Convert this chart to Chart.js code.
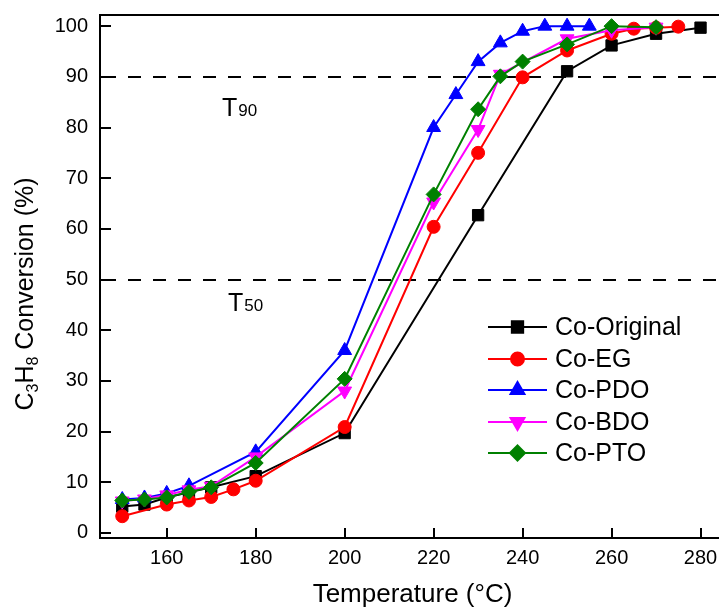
<!DOCTYPE html>
<html>
<head>
<meta charset="utf-8">
<script src="https://cdn.jsdelivr.net/npm/chart.js@4/dist/chart.umd.min.js"></script>
<style>
html, body { margin: 0; padding: 0; background: #fff; overflow: hidden; }
#wrap { width: 734px; height: 612px; overflow: hidden; }
#c { position: relative; top: -9px; }
</style>
</head>
<body>
<div id="wrap"><canvas id="c" width="734" height="621"></canvas></div>
<script>
// values
var ORIG_X = [150, 155, 160, 165, 170, 180, 200, 230, 250, 260, 270, 280];
var ORIG_Y = [5.2, 5.6, 7.0, 8.0, 9.0, 11.2, 19.7, 62.7, 91.1, 96.2, 98.5, 99.7];

var EG_X = [150, 160, 165, 170, 175, 180, 200, 220, 230, 240, 250, 260, 265, 270, 275];
var EG_Y = [3.3, 5.6, 6.4, 7.1, 8.6, 10.3, 20.9, 60.4, 75.0, 89.9, 95.2, 98.5, 99.5, 99.7, 99.9];

var PDO_X = [150, 155, 160, 165, 180, 200, 220, 225, 230, 235, 240, 245, 250, 255];
var PDO_Y = [6.6, 6.9, 7.8, 9.3, 16.0, 36.0, 80.0, 86.5, 93.0, 96.7, 99.0, 100, 100, 100];

var BDO_X = [150, 155, 160, 165, 170, 180, 200, 220, 230, 235, 250, 260, 270];
var BDO_Y = [6.3, 6.7, 7.5, 8.5, 9.2, 15.0, 28.0, 65.3, 79.6, 90.5, 97.5, 99.2, 99.8];

var PTO_X = [150, 155, 160, 165, 170, 180, 200, 220, 230, 235, 240, 250, 260, 270];
var PTO_Y = [6.4, 6.6, 7.0, 8.1, 9.0, 13.8, 30.4, 66.8, 83.6, 90.1, 93.0, 96.4, 100, 99.8];

var X_TICKS = [160, 180, 200, 220, 240, 260, 280];
var Y_TICKS = [0, 10, 20, 30, 40, 50, 60, 70, 80, 90, 100];
var REF_LINES = [90, 50];

var FONT = '"Liberation Sans", Arial, sans-serif';
var OFF = 9; // canvas is shifted up by this many px

function pts(xs, ys) {
    return xs.map(function(x, i) { return { x: x, y: ys[i] }; });
}

function series(label, xs, ys, color, style, radius, rot, order) {
    return {
        label: label,
        data: pts(xs, ys),
        borderColor: color,
        backgroundColor: color,
        borderWidth: 2,
        pointStyle: style,
        pointRadius: radius,
        pointRotation: rot,
        pointBorderWidth: 1,
        pointBorderColor: color,
        pointBackgroundColor: color,
        tension: 0,
        order: order
    };
}

var datasets = [
    series('Co-Original', ORIG_X, ORIG_Y, '#000000', 'rect', 8, 0, 5),
    series('Co-EG', EG_X, EG_Y, '#ff0000', 'circle', 6.5, 0, 4),
    series('Co-PDO', PDO_X, PDO_Y, '#0000ff', 'triangle', 8, 0, 3),
    series('Co-BDO', BDO_X, BDO_Y, '#ff00ff', 'triangle', 8, 180, 2),
    series('Co-PTO', PTO_X, PTO_Y, '#008000', 'rectRot', 7.5, 0, 1)
];

var decor = {
    id: 'decor',
    beforeDatasetsDraw: function(chart) {
        var ctx = chart.ctx, a = chart.chartArea, ys = chart.scales.y;
        ctx.save();
        ctx.strokeStyle = '#000';
        ctx.lineWidth = 2;
        ctx.setLineDash([13, 12]);
        REF_LINES.forEach(function(v) {
            var py = Math.round(ys.getPixelForValue(v));
            ctx.beginPath();
            ctx.moveTo(a.left + 3, py);
            ctx.lineTo(a.right, py);
            ctx.stroke();
        });
        ctx.setLineDash([]);
        // T90 / T50 labels
        ctx.fillStyle = '#000';
        ctx.textBaseline = 'alphabetic';
        function tlabel(x, yb, sub) {
            ctx.font = '25px ' + FONT;
            ctx.fillText('T', x, yb + OFF);
            var w = ctx.measureText('T').width;
            ctx.font = '17px ' + FONT;
            ctx.fillText(sub, x + w + 1, yb + OFF);
        }
        tlabel(222, 116, '90');
        tlabel(228, 311, '50');
        ctx.restore();
    },
    afterDraw: function(chart) {
        var ctx = chart.ctx, a = chart.chartArea, xs = chart.scales.x, ys = chart.scales.y;
        ctx.save();
        ctx.strokeStyle = '#000';
        ctx.lineWidth = 2;
        ctx.strokeRect(a.left, a.top, a.right - a.left, a.bottom - a.top);
        ctx.beginPath();
        Y_TICKS.forEach(function(v) {
            var py = Math.round(ys.getPixelForValue(v));
            ctx.moveTo(a.left, py);
            ctx.lineTo(a.left + 11, py);
        });
        X_TICKS.forEach(function(v) {
            var px = Math.round(xs.getPixelForValue(v));
            ctx.moveTo(px, a.bottom);
            ctx.lineTo(px, a.bottom - 10);
        });
        ctx.stroke();

        // legend
        var rowY = [327, 359, 390, 422, 453];
        chart.data.datasets.forEach(function(ds, i) {
            var y = rowY[i] + OFF;
            ctx.strokeStyle = ds.borderColor;
            ctx.lineWidth = 2;
            ctx.beginPath();
            ctx.moveTo(488, y);
            ctx.lineTo(547, y);
            ctx.stroke();
            ctx.fillStyle = ds.backgroundColor;
            Chart.helpers.drawPoint(ctx, {
                pointStyle: ds.pointStyle,
                radius: ds.pointRadius,
                rotation: ds.pointRotation,
                borderWidth: 1
            }, 517.5, y);
            ctx.fillStyle = '#000';
            ctx.font = '25px ' + FONT;
            ctx.textBaseline = 'middle';
            ctx.fillText(ds.label, 555, y + 1);
        });

        // y axis title with subscripts
        ctx.save();
        ctx.translate(33, 294 + OFF);
        ctx.rotate(-Math.PI / 2);
        ctx.fillStyle = '#000';
        ctx.textBaseline = 'alphabetic';
        var parts = [['C', 25, 0], ['3', 16, 5], ['H', 25, 0], ['8', 16, 5], [' Conversion (%)', 25, 0]];
        var total = 0;
        parts.forEach(function(p) { ctx.font = p[1] + 'px ' + FONT; total += ctx.measureText(p[0]).width; });
        var x = -total / 2;
        parts.forEach(function(p) {
            ctx.font = p[1] + 'px ' + FONT;
            ctx.fillText(p[0], x, p[2]);
            x += ctx.measureText(p[0]).width;
        });
        ctx.restore();
        ctx.restore();
    }
};

new Chart(document.getElementById('c'), {
    type: 'line',
    data: { datasets: datasets },
    options: {
        responsive: false,
        animation: false,
        layout: { padding: { top: 6, right: 0, left: 0, bottom: 0 } },
        plugins: { legend: { display: false }, tooltip: { enabled: false } },
        scales: {
            x: {
                type: 'linear',
                min: 145,
                max: 285.5,
                grid: { display: false, drawTicks: false },
                border: { display: false },
                afterBuildTicks: function(s) { s.ticks = X_TICKS.map(function(v) { return { value: v }; }); },
                afterFit: function(s) { s.height = 74; },
                ticks: { color: '#000', font: { size: 20, family: FONT }, padding: 8, maxRotation: 0, autoSkip: false },
                title: { display: true, text: 'Temperature (°C)', color: '#000', font: { size: 26, family: FONT }, padding: { top: 4, bottom: 2 } }
            },
            y: {
                min: -1,
                max: 102.2,
                grid: { display: false, drawTicks: false },
                border: { display: false },
                afterBuildTicks: function(s) { s.ticks = Y_TICKS.map(function(v) { return { value: v }; }); },
                afterFit: function(s) { s.width = 100; },
                ticks: { color: '#000', font: { size: 20, family: FONT }, padding: 12, autoSkip: false }
            }
        }
    },
    plugins: [decor]
});
</script>
</body>
</html>
